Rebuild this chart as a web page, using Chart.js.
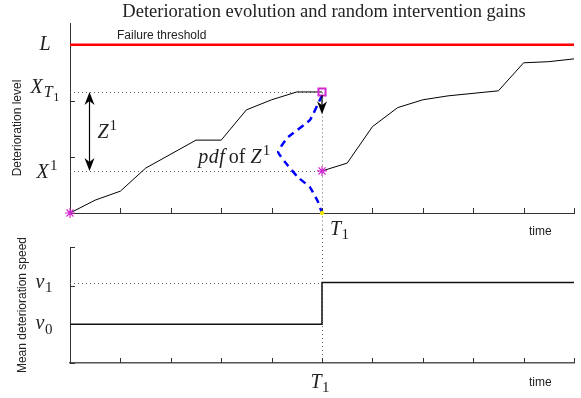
<!DOCTYPE html>
<html>
<head>
<meta charset="utf-8">
<script src="https://cdn.jsdelivr.net/npm/chart.js@4"></script>
<style>
html, body { margin: 0; padding: 0; background: #fff; }
#wrap { position: relative; width: 581px; height: 398px; overflow: hidden; }
canvas { position: absolute; left: 0; }
#levelChart { top: 0; }
#speedChart { top: 230px; }
</style>
</head>
<body>
<div id="wrap">
  <canvas id="levelChart" width="581" height="245"></canvas>
  <canvas id="speedChart" width="581" height="168"></canvas>
</div>
<script>
// Time axis (arbitrary units), intervention at T1
const timeTicks = [0, 1, 2, 3, 4, 5, 6, 7, 8, 9, 10];
const interventionTime = 5;

// Deterioration path before / after the intervention
const timeBefore = [0, 0.5, 1, 1.5, 2.5, 3, 3.5, 4, 4.5, 5];
const levelBefore = [0, 0.23, 0.39, 0.8, 1.3, 1.3, 1.84, 2.02, 2.16, 2.16];
const timeAfter = [5, 5.5, 6, 6.5, 7, 7.5, 8.5, 9, 9.5, 10];
const levelAfter = [0.75, 0.89, 1.54, 1.88, 2.02, 2.09, 2.18, 2.68, 2.7, 2.75];

const failureLevel = 3;
const levelMax = 3.39;
const levelTicks = [0, 1, 2, 3];

// pdf of the gain Z^1, drawn sideways to the left of T1
const pdfLevel = [2.1, 1.66, 1.34, 1.09, 0.86, 0.64, 0.46, 0.2, 0];
const pdfTime = [5, 4.76, 4.31, 4.13, 4.31, 4.52, 4.76, 4.92, 5];

// Mean deterioration speed (step at T1)
const speedTime = [0, 5, 5, 10];
const speedValue = [0.5, 0.5, 1.04, 1.04];
const speedTicks = [0, 0.5, 1, 1.5];
const speedMax = 1.5;

const levelAtT1 = levelBefore[levelBefore.length - 1];   // X_T1
const levelAfterT1 = levelAfter[0];                       // X^1
const zArrowTime = 0.38;
const interventionArrowEnd = 1.76;

const MAGENTA = 'rgb(210, 40, 210)';
const TEXT = '#222';
const SANS = '"Liberation Sans", Arial, sans-serif';
const SERIF = '"Liberation Serif", "DejaVu Serif", serif';
const MATH = 20;

const pts = (xs, ys) => xs.map((x, i) => ({ x, y: ys[i] }));

function dotted(ctx, x1, y1, x2, y2) {
    ctx.save();
    ctx.strokeStyle = '#666';
    ctx.lineWidth = 1;
    ctx.setLineDash([1, 3]);
    ctx.beginPath();
    ctx.moveTo(x1, y1);
    ctx.lineTo(x2, y2);
    ctx.stroke();
    ctx.restore();
}

function arrowHead(ctx, x, y, dir) {
    // dir = 1 points down, -1 points up
    ctx.beginPath();
    ctx.moveTo(x, y);
    ctx.lineTo(x - 5, y - dir * 13);
    ctx.lineTo(x, y - dir * 9);
    ctx.lineTo(x + 5, y - dir * 13);
    ctx.closePath();
    ctx.fill();
}

// segs: [text, italic, sizeFactor, dy (in em), gap after (px)]; y is the baseline
function mathText(ctx, segs, x, y, size, align) {
    const fontFor = s => (s[1] ? 'italic ' : '') + (size * s[2]).toFixed(1) + 'px ' + SERIF;
    let w = 0;
    segs.forEach(s => { ctx.font = fontFor(s); w += ctx.measureText(s[0]).width + (s[4] || 0); });
    let cx = align === 'center' ? x - w / 2 : align === 'right' ? x - w : x;
    ctx.textAlign = 'left';
    ctx.textBaseline = 'alphabetic';
    ctx.fillStyle = TEXT;
    segs.forEach(s => {
        ctx.font = fontFor(s);
        ctx.fillText(s[0], cx, y + s[3] * size);
        cx += ctx.measureText(s[0]).width + (s[4] || 0);
    });
}

function plainText(ctx, text, x, y, font, align, rotate) {
    ctx.save();
    ctx.font = font;
    ctx.fillStyle = TEXT;
    ctx.textAlign = align;
    ctx.textBaseline = 'middle';
    ctx.translate(x, y);
    if (rotate) ctx.rotate(-Math.PI / 2);
    ctx.fillText(text, 0, 0);
    ctx.restore();
}

function innerTicks(chart, xVals, yVals) {
    const { ctx, scales: { x, y } } = chart;
    ctx.save();
    ctx.strokeStyle = '#333';
    ctx.lineWidth = 1;
    ctx.beginPath();
    xVals.forEach(v => {
        const px = Math.round(x.getPixelForValue(v)) + 0.5;
        ctx.moveTo(px, y.bottom);
        ctx.lineTo(px, y.bottom - 5);
    });
    yVals.forEach(v => {
        const py = Math.round(y.getPixelForValue(v)) + 0.5;
        ctx.moveTo(x.left, py);
        ctx.lineTo(x.left + 5, py);
    });
    ctx.stroke();
    ctx.restore();
}

const levelDecor = {
    id: 'levelDecor',
    beforeDatasetsDraw(chart) {
        const { ctx, scales: { x, y } } = chart;
        const t1 = Math.round(x.getPixelForValue(interventionTime)) + 0.5;
        const yT1 = Math.round(y.getPixelForValue(levelAtT1)) + 0.5;
        const y1 = Math.round(y.getPixelForValue(levelAfterT1)) + 0.5;
        dotted(ctx, x.left, yT1, t1, yT1);
        dotted(ctx, x.left, y1, t1, y1);
        dotted(ctx, t1, yT1, t1, chart.height - 15);
        innerTicks(chart, timeTicks, levelTicks);
    },
    afterDatasetsDraw(chart) {
        const { ctx, scales: { x, y } } = chart;
        const t1 = x.getPixelForValue(interventionTime);
        const yT1 = y.getPixelForValue(levelAtT1);
        const y1 = y.getPixelForValue(levelAfterT1);
        const mid = (x.left + x.right) / 2;

        ctx.save();
        // title
        ctx.font = '18.5px ' + SERIF;
        ctx.fillStyle = TEXT;
        ctx.textAlign = 'center';
        ctx.textBaseline = 'alphabetic';
        ctx.fillText('Deterioration evolution and random intervention gains', mid + 2, 17);

        // threshold label
        ctx.font = '12px ' + SANS;
        ctx.textAlign = 'left';
        ctx.fillText('Failure threshold', 117, y.getPixelForValue(failureLevel) - 6);

        // axis titles
        plainText(ctx, 'Deterioration level', 18, (y.top + y.bottom) / 2 + 10, '12px ' + SANS, 'center', true);
        plainText(ctx, 'time', 529, y.bottom + 19, '12px ' + SANS, 'left', false);

        // tick labels
        const lx = x.left - 25;
        mathText(ctx, [['L', 1, 1, 0]], lx, y.getPixelForValue(failureLevel) + 5, MATH, 'center');
        mathText(ctx, [['X', 1, 1, 0, 1], ['T', 1, 0.8, 0.22, 0.5], ['1', 0, 0.62, 0.4]], lx, yT1 + 1, MATH, 'center');
        mathText(ctx, [['X', 1, 1, 0, 1.5], ['1', 0, 0.75, -0.4]], lx + 2, y1 + 7, MATH, 'center');
        mathText(ctx, [['T', 1, 1, 0, 0.5], ['1', 0, 0.75, 0.22]], t1 + 8, y.bottom + 22, MATH, 'left');

        // Z^1 arrow
        ctx.fillStyle = '#000';
        ctx.strokeStyle = '#000';
        ctx.lineWidth = 1.2;
        const zx = Math.round(x.getPixelForValue(zArrowTime)) + 0.5;
        ctx.beginPath();
        ctx.moveTo(zx, yT1 + 6);
        ctx.lineTo(zx, y1 - 6);
        ctx.stroke();
        arrowHead(ctx, zx, yT1, -1);
        arrowHead(ctx, zx, y1, 1);
        mathText(ctx, [['Z', 1, 1, 0, 1], ['1', 0, 0.75, -0.4]], zx + 8, (yT1 + y1) / 2 + 7, MATH, 'left');

        // intervention arrow
        const endY = y.getPixelForValue(interventionArrowEnd);
        ctx.fillStyle = '#000';
        ctx.beginPath();
        ctx.moveTo(t1, yT1 + 3);
        ctx.lineTo(t1, endY - 6);
        ctx.stroke();
        arrowHead(ctx, t1, endY, 1);

        // pdf label
        const pdfLeft = x.getPixelForValue(Math.min(...pdfTime));
        const pdfMid = y.getPixelForValue(pdfLevel[pdfTime.indexOf(Math.min(...pdfTime))]);
        mathText(ctx, [['p', 1, 1, 0, 0.5], ['d', 1, 1, 0, 0.5], ['f', 1, 1, 0, 4], ['of', 0, 1, 0, 5], ['Z', 1, 1, 0, 1], ['1', 0, 0.75, -0.4]], pdfLeft - 8, pdfMid + 11, MATH, 'right');
        ctx.restore();
    }
};

const speedDecor = {
    id: 'speedDecor',
    beforeDatasetsDraw(chart) {
        const { ctx, scales: { x, y } } = chart;
        const t1 = Math.round(x.getPixelForValue(interventionTime)) + 0.5;
        const yV1 = Math.round(y.getPixelForValue(speedValue[2])) + 0.5;
        dotted(ctx, x.left, yV1, t1, yV1);
        dotted(ctx, t1, 0, t1, y.bottom);
        innerTicks(chart, timeTicks, speedTicks);
    },
    afterDatasetsDraw(chart) {
        const { ctx, scales: { x, y } } = chart;
        const t1 = x.getPixelForValue(interventionTime);
        const lx = x.left - 25;
        ctx.save();
        plainText(ctx, 'Mean deterioration speed', 23, (y.top + y.bottom) / 2, '12px ' + SANS, 'center', true);
        plainText(ctx, 'time', 529, y.bottom + 20, '12px ' + SANS, 'left', false);
        mathText(ctx, [['v', 1, 1, 0, 0.5], ['1', 0, 0.75, 0.22]], lx - 1, y.getPixelForValue(speedValue[2]) + 5, MATH, 'center');
        mathText(ctx, [['v', 1, 1, 0, 0.5], ['0', 0, 0.75, 0.22]], lx - 1, y.getPixelForValue(speedValue[0]) + 5, MATH, 'center');
        mathText(ctx, [['T', 1, 1, 0, 0.5], ['1', 0, 0.75, 0.22]], t1 - 2, y.bottom + 25, MATH, 'center');
        ctx.restore();
    }
};

function axisOptions(max, xHeight, xBorder) {
    return {
        x: {
            type: 'linear', min: 0, max: 10,
            ticks: { display: false },
            grid: { display: false },
            border: xBorder,
            afterFit: s => { s.height = xHeight; }
        },
        y: {
            type: 'linear', min: 0, max: max,
            ticks: { display: false },
            grid: { display: false },
            border: { color: '#333', width: 1 },
            afterFit: s => { s.width = 70; }
        }
    };
}

const basePlugins = { legend: { display: false }, tooltip: { enabled: false } };

new Chart(document.getElementById('levelChart'), {
    type: 'scatter',
    data: {
        datasets: [
            { label: 'start', data: [{ x: 0, y: 0 }, { x: interventionTime, y: levelAfterT1 }], pointStyle: 'star', pointRadius: 5, borderColor: MAGENTA, borderWidth: 1.2, clip: false },
            { label: 'before maintenance', data: [{ x: interventionTime, y: levelAtT1 }], pointStyle: 'rect', pointRadius: 5, borderColor: MAGENTA, backgroundColor: 'rgba(0,0,0,0)', borderWidth: 2, clip: false },
            { label: 'zero', data: [{ x: interventionTime, y: 0 }], pointRadius: 1.8, borderColor: '#e8e800', backgroundColor: '#e8e800', clip: false },
            { label: 'pdf', data: pts(pdfTime, pdfLevel), showLine: true, borderColor: '#0000ff', borderWidth: 2.5, borderDash: [7, 5], tension: 0.12, pointRadius: 0, clip: false },
            { label: 'path before', data: pts(timeBefore, levelBefore), showLine: true, borderColor: '#000', borderWidth: 1, pointRadius: 0 },
            { label: 'path after', data: pts(timeAfter, levelAfter), showLine: true, borderColor: '#000', borderWidth: 1, pointRadius: 0 },
            { label: 'Failure threshold', data: pts([0, 10], [failureLevel, failureLevel]), showLine: true, borderColor: '#ff0000', borderWidth: 2.5, pointRadius: 0 }
        ]
    },
    options: {
        responsive: false,
        animation: false,
        devicePixelRatio: 1,
        events: [],
        layout: { padding: { top: 23, right: 7, left: 0, bottom: 0 } },
        plugins: basePlugins,
        scales: axisOptions(levelMax, 32, { color: '#333', width: 1 })
    },
    plugins: [levelDecor]
});

new Chart(document.getElementById('speedChart'), {
    type: 'scatter',
    data: {
        datasets: [
            { label: 'Mean deterioration speed', data: pts(speedTime, speedValue), showLine: true, borderColor: '#111', borderWidth: 1.5, pointRadius: 0 }
        ]
    },
    options: {
        responsive: false,
        animation: false,
        devicePixelRatio: 1,
        events: [],
        layout: { padding: { top: 17, right: 7, left: 0, bottom: 0 } },
        plugins: basePlugins,
        scales: axisOptions(speedMax, 35, { color: '#555', width: 1.5 })
    },
    plugins: [speedDecor]
});
</script>
</body>
</html>
